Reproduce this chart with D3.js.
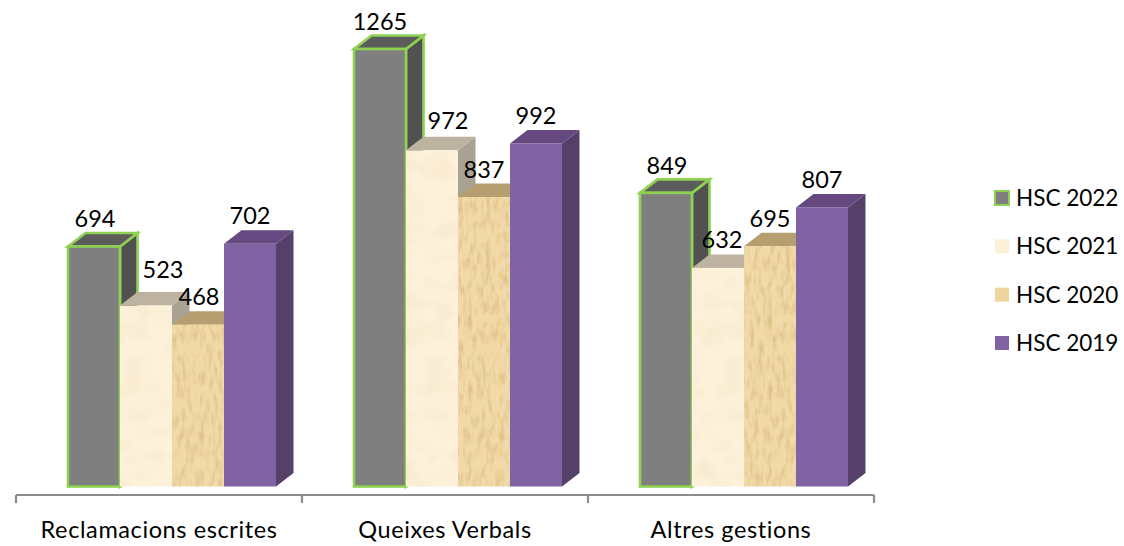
<!DOCTYPE html>
<html><head><meta charset="utf-8">
<script src="https://cdnjs.cloudflare.com/ajax/libs/d3/7.8.5/d3.min.js"></script>
<style>html,body{margin:0;background:#fff}svg{display:block}text{font-family:Lato,"Open Sans",sans-serif;fill:#000}</style>
</head><body><svg id="c" width="1124" height="546"></svg>
<script>
const categories = ["Reclamacions escrites","Queixes Verbals","Altres gestions"];
const seriesNames = ["HSC 2022","HSC 2021","HSC 2020","HSC 2019"];
const hsc2022 = [694,1265,849];
const hsc2021 = [523,972,632];
const hsc2020 = [468,837,695];
const hsc2019 = [702,992,807];
const seriesValues = [hsc2022,hsc2021,hsc2020,hsc2019];
// hand placement of the data labels, px [dx, dy] relative to the bar's back top edge
const labelNudge = [
 [[1,-6],[0,-6],[1,-5]],
 [[17,-14],[16,-8],[4,-6]],
 [[1,-6],[0,-6],[0,-6]],
 [[0,-6],[0,-6],[0,-6]]
];
const palette = [
 {front:"#7f7f7f",side:"#515151",top:"#5c5c5c",stroke:"#8ed152"},
 {front:"url(#cream)",side:"#a9a292",top:"#bdb3a0",swatch:"#fdf0d8"},
 {front:"url(#tan)",side:"#a08c60",top:"#b59f70",swatch:"#efd49c"},
 {front:"#8064a2",side:"#553f6b",top:"#654a80"}
];
const svg = d3.select("#c");
const defs = svg.append("defs");
function texture(id, base, freq, strength){
  defs.append("pattern").attr("id",id).attr("patternUnits","userSpaceOnUse").attr("width",300).attr("height",500)
    .call(p=>{
      p.append("rect").attr("width",300).attr("height",500).attr("fill",base);
      p.append("rect").attr("width",300).attr("height",500).attr("filter",`url(#${id}F)`);
    });
  const f = defs.append("filter").attr("id",id+"F").attr("x",0).attr("y",0).attr("width","100%").attr("height","100%");
  f.append("feTurbulence").attr("type","fractalNoise").attr("baseFrequency",freq).attr("numOctaves",2).attr("seed",4);
  f.append("feColorMatrix").attr("values",`0 0 0 0 0.62  0 0 0 0 0.42  0 0 0 0 0.16  ${strength} 0 0 0 ${-strength*0.42}`);
}
texture("tan","#f2daa8","0.22 0.07",1.3);
texture("cream","#fdf1da","0.04 0.05",0.25);
defs.append("filter").attr("id","soft").append("feGaussianBlur").attr("stdDeviation",0.5);

const x0 = d3.scaleBand().domain(categories).range([16,874]);
const barW = 52;
const x1 = d3.scaleBand().domain(seriesNames).range([52,52+4*barW]);
const y = d3.scaleLinear().domain([0,1265]).range([486.5,49]);
const depthX = 17.5, depthY = 13.5;
const line = d3.line();

const marks = svg.append("g").attr("filter","url(#soft)");
categories.forEach((cat,ci)=>{
  seriesNames.forEach((name,si)=>{
    const v = seriesValues[si][ci], c = palette[si];
    const l = x0(cat)+x1(name), r = l+barW, t = y(v), b = y(0);
    const g = marks.append("g");
    const st = c.stroke||"none", sw = c.stroke?2.6:0;
    g.append("path").attr("d",line([[r,t],[r+depthX,t-depthY],[r+depthX,b-depthY],[r,b]])+"Z").attr("fill",c.side).attr("stroke",st).attr("stroke-width",sw);
    g.append("path").attr("d",line([[l,t],[l+depthX,t-depthY],[r+depthX,t-depthY],[r,t]])+"Z").attr("fill",c.top).attr("stroke",st).attr("stroke-width",sw);
    g.append("rect").attr("x",l).attr("y",t).attr("width",barW).attr("height",b-t).attr("fill",c.front).attr("stroke",st).attr("stroke-width",sw);
  });
});

const ax = svg.append("g").attr("filter","url(#soft)");
ax.append("path").attr("d",line([[x0.range()[0],495],[x0.range()[1],495]])).attr("stroke","#8c8c8c").attr("stroke-width",2.2).attr("fill","none");
[...categories.map(c=>x0(c)),x0.range()[1]].forEach(px=>{
  ax.append("path").attr("d",line([[px,495],[px,503]])).attr("stroke","#8c8c8c").attr("stroke-width",2.2);
});
categories.forEach(cat=>{
  svg.append("text").attr("x",x0(cat)+x0.bandwidth()/2).attr("y",538).attr("text-anchor","middle").attr("font-size",23.5).attr("letter-spacing",0.6).text(cat);
});
categories.forEach((cat,ci)=>{
  seriesNames.forEach((name,si)=>{
    const v = seriesValues[si][ci], n = labelNudge[si][ci];
    svg.append("text").attr("x",x0(cat)+x1(name)+barW/2+n[0]).attr("y",y(v)-depthY+n[1])
      .attr("text-anchor","middle").attr("font-size",23.5).text(v);
  });
});
const legendY = d3.scalePoint().domain(seriesNames).range([198,343]);
const legendG = svg.append("g").attr("filter","url(#soft)");
seriesNames.forEach((name,si)=>{
  const c = palette[si], yy = legendY(name);
  legendG.append("rect").attr("x",995).attr("y",yy-7).attr("width",14).attr("height",14)
    .attr("fill",c.swatch||c.front).attr("stroke",c.stroke||"none").attr("stroke-width",c.stroke?2:0);
  svg.append("text").attr("x",1016).attr("y",yy+8).attr("font-size",22.5).text(name);
});
</script></body></html>
